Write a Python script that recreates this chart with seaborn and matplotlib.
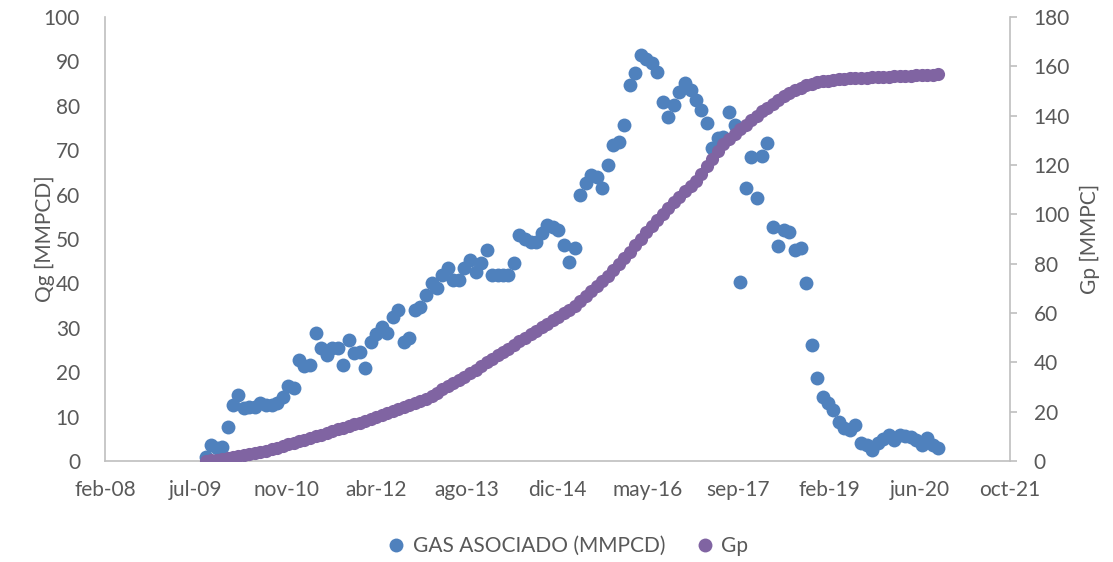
import numpy as np
import pandas as pd
import matplotlib
matplotlib.use("Agg")
import matplotlib.pyplot as plt
import matplotlib.dates as mdates
from matplotlib.lines import Line2D
import seaborn as sns

# ---------------- data ----------------
qg_mmpcd = [
    1.0, 3.6, 3.0, 3.2, 7.6, 12.6, 14.9, 12.0, 12.2, 12.2,
    13.0, 12.6, 12.6, 13.0, 14.4, 16.9, 16.4, 22.7, 21.5, 21.6,
    28.8, 25.4, 23.9, 25.4, 25.5, 21.6, 27.2, 24.3, 24.5, 20.9,
    26.8, 28.5, 30.2, 28.8, 32.4, 34.0, 26.8, 27.7, 34.0, 34.7,
    37.4, 40.0, 39.0, 41.9, 43.5, 40.8, 40.8, 43.5, 45.3, 42.6,
    44.6, 47.5, 41.9, 41.9, 41.9, 41.9, 44.6, 50.9, 50.0, 49.3,
    49.3, 51.4, 53.2, 52.6, 52.0, 48.6, 44.8, 48.0, 59.9, 62.6,
    64.4, 64.0, 61.5, 66.7, 71.2, 71.8, 75.7, 84.7, 87.4, 91.4,
    90.5, 89.6, 87.6, 80.9, 77.5, 80.2, 83.1, 85.1, 83.6, 81.3,
    79.0, 76.1, 70.5, 72.7, 73.0, 78.6, 75.7, 40.3, 61.5, 68.5,
    59.2, 68.7, 71.6, 52.7, 48.4, 52.0, 51.6, 47.5, 48.0, 40.1,
    26.1, 18.8, 14.4, 13.0, 11.5, 8.8, 7.4, 7.0, 8.1, 4.1,
    3.6, 2.5, 4.1, 5.0, 5.9, 4.7, 5.9, 5.6, 5.4, 4.7,
    3.6, 5.2, 3.6, 2.9,
]

gp_mmpc = [
    0.0, 0.3, 0.6, 1.0, 1.3, 1.7, 2.1, 2.5, 2.9, 3.3,
    3.7, 4.2, 4.8, 5.4, 6.1, 6.8, 7.4, 8.0, 8.6, 9.3,
    10.0, 10.7, 11.4, 12.1, 12.8, 13.5, 14.2, 14.8, 15.4, 16.2,
    17.0, 17.8, 18.6, 19.4, 20.3, 21.2, 22.0, 22.8, 23.6, 24.4,
    25.2, 26.4, 27.7, 29.0, 30.3, 31.6, 32.8, 34.2, 35.6, 37.0,
    38.5, 40.0, 41.4, 42.8, 44.2, 45.6, 47.0, 48.5, 50.0, 51.4,
    52.8, 54.2, 55.6, 57.0, 58.4, 59.8, 61.2, 63.0, 64.9, 66.8,
    68.8, 70.8, 72.9, 75.1, 77.4, 79.8, 82.3, 84.9, 87.6, 90.2,
    92.8, 95.3, 97.7, 100.1, 102.5, 104.8, 107.1, 109.3, 111.5, 113.6,
    116.5, 119.5, 122.5, 125.5, 128.5, 130.5, 132.5, 134.4, 136.3, 138.2,
    140.0, 141.7, 143.3, 144.9, 146.4, 147.8, 149.1, 150.3, 151.4, 152.3,
    153.0, 153.5, 153.9, 154.2, 154.5, 154.7, 154.9, 155.1, 155.2, 155.3,
    155.4, 155.5, 155.6, 155.7, 155.8, 155.9, 156.0, 156.1, 156.2, 156.3,
    156.4, 156.5, 156.6, 156.7,
]

first_month_end = "2009-08-31"
xtick_labels = ["feb-08", "jul-09", "nov-10", "abr-12", "ago-13", "dic-14",
                "may-16", "sep-17", "feb-19", "jun-20", "oct-21"]
left_ticks = list(range(0, 101, 10))
right_ticks = list(range(0, 181, 20))
series_names = ["GAS ASOCIADO (MMPCD)", "Gp"]
y_left_title = "Qg [MMPCD]"
y_right_title = "Gp [MMPC]"

dates = pd.date_range(first_month_end, periods=len(qg_mmpcd), freq="ME")
df = pd.DataFrame({"fecha": dates, "qg": qg_mmpcd, "gp": gp_mmpc})

# x-axis as in the original (Excel serial 39500 .. 44500, step 500 days)
excel_origin = pd.Timestamp("1899-12-30")
tick_dates = [excel_origin + pd.Timedelta(days=39500 + 500 * k) for k in range(len(xtick_labels))]
tick_nums = mdates.date2num(tick_dates)

# ---------------- style ----------------
sns.set_theme(style="white")
plt.rcParams["font.family"] = ["Lato", "DejaVu Sans"]

BLUE = "#4F81BD"
PURPLE = "#8064A2"
GRAY_TXT = "#595959"
GRAY_AX = "#BFBFBF"

W, H = 1113, 562
fig = plt.figure(figsize=(W / 100, H / 100), dpi=100)
ax = fig.add_axes([105 / W, 1 - 461 / H, 905 / W, 444 / H])

sns.scatterplot(data=df, x="fecha", y="qg", ax=ax, color=BLUE, s=100,
                linewidth=0, legend=False, zorder=3)
ax2 = ax.twinx()
sns.scatterplot(data=df, x="fecha", y="gp", ax=ax2, color=PURPLE, s=90,
                linewidth=0, legend=False, zorder=3)

ax.set_xlim(tick_nums[0], tick_nums[-1])
ax.set_xticks(tick_nums)
ax.set_xticklabels(xtick_labels)
ax.set_ylim(0, 100)
ax.set_yticks(left_ticks)
ax2.set_ylim(0, 180)
ax2.set_yticks(right_ticks)

for s in ["top", "right"]:
    ax.spines[s].set_visible(False)
for s in ["left", "bottom"]:
    ax.spines[s].set_color(GRAY_AX)
    ax.spines[s].set_linewidth(1.2)
for s in ["top", "left", "bottom"]:
    ax2.spines[s].set_visible(False)
ax2.spines["right"].set_color(GRAY_AX)
ax2.spines["right"].set_linewidth(1.2)

ax.tick_params(axis="x", length=0, pad=14, labelsize=15, labelcolor=GRAY_TXT)
ax.tick_params(axis="y", length=0, pad=18, labelsize=15, labelcolor=GRAY_TXT)
ax2.tick_params(axis="y", length=5, width=1.2, color=GRAY_AX, direction="out",
                pad=12, labelsize=15, labelcolor=GRAY_TXT)
ax.grid(False)
ax2.grid(False)

ax.set_xlabel("")
ax.set_ylabel(y_left_title, fontsize=15, color=GRAY_TXT, va="center")
ax.yaxis.set_label_coords((45 - 105) / 905, 0.5)
ax2.set_ylabel(y_right_title, fontsize=15, color=GRAY_TXT, va="center", rotation=90)
ax2.yaxis.set_label_coords((1090 - 105) / 905, 0.5)

handles = [
    Line2D([], [], ls="none", marker="o", markersize=10, color=BLUE, markeredgewidth=0),
    Line2D([], [], ls="none", marker="o", markersize=10, color=PURPLE, markeredgewidth=0),
]
fig.legend(handles, series_names, loc="center", bbox_to_anchor=(567 / W, 1 - 546 / H),
           ncol=2, frameon=False, fontsize=15, labelcolor=GRAY_TXT,
           handletextpad=0.3, columnspacing=1.4, handlelength=1.0)

fig.savefig("out.png", dpi=100)
